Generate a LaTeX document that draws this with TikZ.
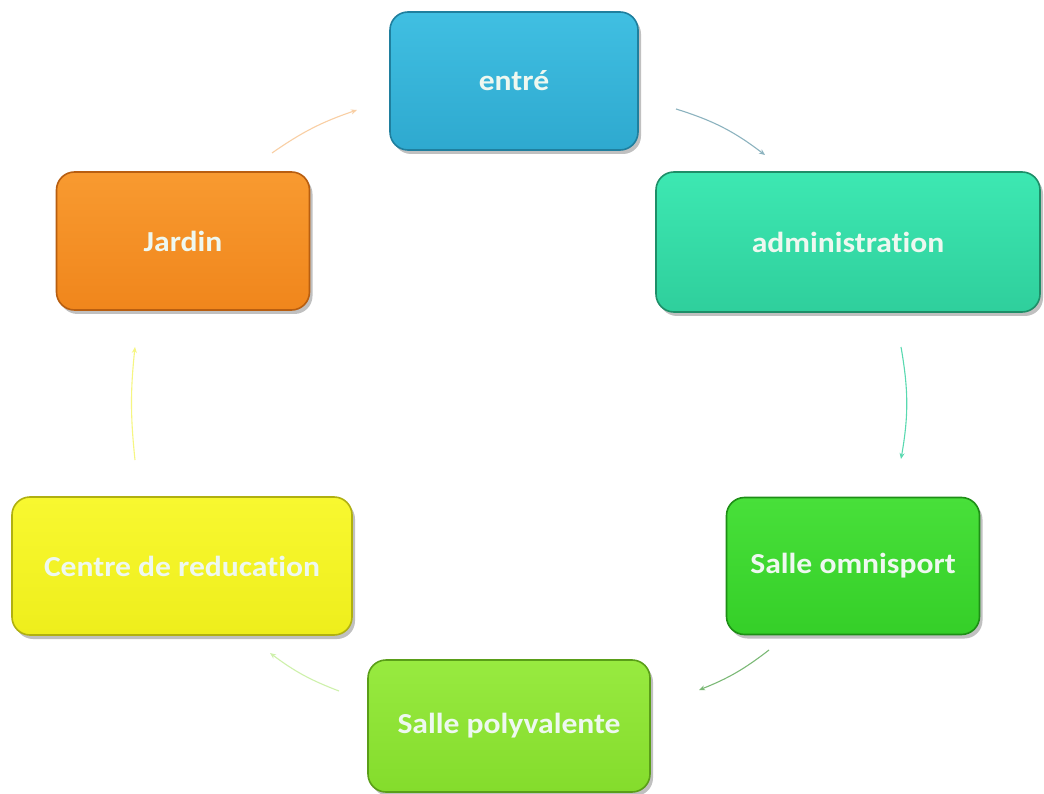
\documentclass[tikz,border=0pt]{standalone}
\usepackage{fontspec}
\setmainfont{Carlito}[Ligatures=NoCommon]
\usetikzlibrary{shadows,arrows.meta}
\definecolor{cA}{HTML}{2EA9CF}
\definecolor{cAt}{HTML}{40BFE2}
\definecolor{cAd}{HTML}{1F7F9E}
\definecolor{cB}{HTML}{2FCF9C}
\definecolor{cBt}{HTML}{3DE8B2}
\definecolor{cBd}{HTML}{1E8E68}
\definecolor{cC}{HTML}{35CF28}
\definecolor{cCt}{HTML}{48E03A}
\definecolor{cCd}{HTML}{1E8E16}
\definecolor{cD}{HTML}{84DC2C}
\definecolor{cDt}{HTML}{98EA40}
\definecolor{cDd}{HTML}{5A9E18}
\definecolor{cE}{HTML}{EEEE1C}
\definecolor{cEt}{HTML}{F8F830}
\definecolor{cEd}{HTML}{B0B010}
\definecolor{cF}{HTML}{F0861C}
\definecolor{cFt}{HTML}{F89A30}
\definecolor{cFd}{HTML}{B85E10}
\definecolor{txt}{HTML}{EEF8F0}
\newcommand{\wtxt}[1]{\scalebox{1.09}[1]{#1}}
\tikzset{
  boxst/.style args={#1/#2/#3}{rectangle, rounded corners=18pt, draw=#3, line width=1.6pt,
    top color=#2, bottom color=#1, text=txt,
    font=\fontsize{29}{34}\selectfont\bfseries,
    drop shadow={shadow xshift=3pt, shadow yshift=-4pt, opacity=0.35, fill=black!70}},
  conn/.style={line width=1.1pt, -{Stealth[length=6pt,width=5pt]}}
}
\begin{document}
\begin{tikzpicture}[x=1pt,y=1pt]
\useasboundingbox (0,0) rectangle (1044,-794);
\fill[white] (0,0) rectangle (1044,-794);
\node[boxst=cA/cAt/cAd, minimum width=248pt, minimum height=138pt] (entre) at (514,-81) {\wtxt{entré}};
\node[boxst=cB/cBt/cBd, minimum width=384pt, minimum height=140pt] (admin) at (848,-242) {\wtxt{administration}};
\node[boxst=cC/cCt/cCd, minimum width=253pt, minimum height=137pt] (omni) at (853,-566) {\wtxt{Salle omnisport}};
\node[boxst=cD/cDt/cDd, minimum width=282pt, minimum height=132pt] (poly) at (509,-726) {\wtxt{Salle polyvalente}};
\node[boxst=cE/cEt/cEd, minimum width=340pt, minimum height=138pt] (centre) at (182,-566) {\wtxt{Centre de reducation}};
\node[boxst=cF/cFt/cFd, minimum width=253pt, minimum height=138pt] (jardin) at (183,-241) {\wtxt{Jardin}};
% connector end points
\coordinate (a1) at (676,-109); \coordinate (a2) at (765,-155);
\coordinate (b1) at (901,-347); \coordinate (b2) at (901,-459);
\coordinate (c1) at (769,-650); \coordinate (c2) at (699,-690);
\coordinate (d1) at (339,-691); \coordinate (d2) at (270,-653);
\coordinate (e1) at (135,-460); \coordinate (e2) at (135,-347);
\coordinate (f1) at (272,-153); \coordinate (f2) at (357,-110);
\draw[conn, color=cA!45!gray!70] (a1) to[bend left=10] (a2);
\draw[conn, color=cB!80] (b1) to[bend left=10] (b2);
\draw[conn, color=cC!50!gray!80] (c1) to[bend left=8] (c2);
\draw[conn, color=cD!40] (d1) to[bend left=8] (d2);
\draw[conn, color=cE!55] (e1) to[bend left=6] (e2);
\draw[conn, color=cF!40] (f1) to[bend left=8] (f2);
\end{tikzpicture}
\end{document}
